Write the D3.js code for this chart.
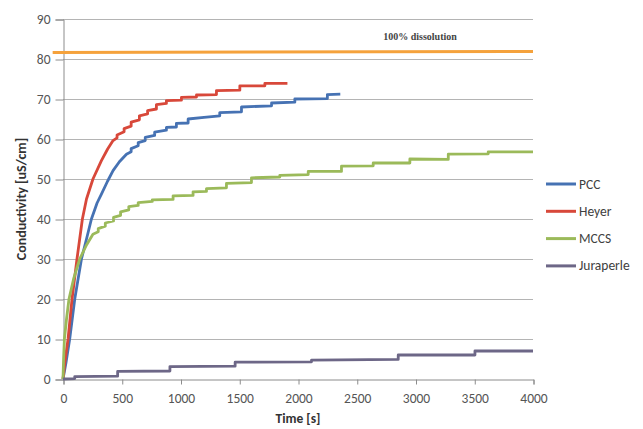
<!DOCTYPE html>
<html>
<head>
<meta charset="utf-8">
<script src="https://cdn.jsdelivr.net/npm/d3@7"></script>
<style>
  html, body { margin: 0; padding: 0; background: #ffffff; }
  svg { display: block; }
  text { font-family: Carlito, "Open Sans", "Liberation Sans", sans-serif; }
</style>
</head>
<body>
<svg id="chart" width="643" height="429"></svg>
<script>
// ---- data (time [s], conductivity [uS/cm]) ----
const seriesNames = ["PCC", "Heyer", "MCCS", "Juraperle"];
const seriesColors = ["#4672b3", "#d8483a", "#9bba5a", "#6d6787"];

const pccData = [[0,0],[25,4],[57,10],[100,20],[157,30],[200,35],[242,40],[290,44],[327,46.2],[380,49.5],[426,52.1],[480,54.3],[540,56.2],[580,56.8],[580,57.6],[640,58.3],[640,59.1],[700,59.6],[700,60.4],[780,60.9],[780,61.7],[880,62.2],[880,62.9],[965,63.0],[965,63.9],[1065,64.0],[1065,65.0],[1200,65.4],[1334,65.8],[1334,66.6],[1519,66.8],[1519,68.0],[1775,68.3],[1775,69.0],[1973,69.2],[1973,70.0],[2250,70.1],[2250,71.1],[2360,71.2]];

const heyerData = [[0,0],[15,4],[43,10],[77,20],[119,30],[165,40],[200,45],[255,50],[327,54.6],[380,57.5],[426,59.6],[460,60.3],[460,61.0],[520,61.8],[520,62.6],[580,63.2],[580,64.2],[650,64.8],[650,65.8],[720,66.3],[720,67.1],[795,67.5],[795,68.6],[880,68.9],[880,69.6],[1008,69.7],[1008,70.4],[1136,70.5],[1136,71.0],[1306,71.1],[1306,72.1],[1505,72.2],[1505,73.3],[1718,73.3],[1718,73.9],[1910,73.9]];

const mccsData = [[0,0],[5,5],[12,10],[30,15],[51,20],[90,25],[142,30],[200,33.5],[255,36.2],[300,36.8],[300,37.6],[360,38.2],[360,39.0],[430,39.5],[430,40.4],[490,40.9],[490,41.8],[560,42.3],[560,43.1],[640,43.4],[640,44.1],[760,44.4],[760,44.8],[937,44.9],[937,45.8],[1107,45.9],[1107,46.8],[1221,46.9],[1221,47.6],[1391,47.8],[1391,48.9],[1604,49.1],[1604,50.3],[1845,50.5],[1845,50.9],[2087,51.1],[2087,51.9],[2370,51.9],[2370,53.2],[2640,53.3],[2640,54.0],[2952,54.0],[2952,55.0],[3279,54.9],[3279,56.2],[3619,56.3],[3619,56.8],[4000,56.8]];

const juraperleData = [[0,0],[100,0.1],[100,0.6],[465,0.7],[465,1.9],[910,2.0],[910,3.1],[1465,3.2],[1465,4.2],[2115,4.3],[2115,4.7],[2853,4.9],[2853,6.0],[3506,6.0],[3506,7.0],[4000,7.0]];

const dissolutionLine = [[-88,81.6],[4000,81.9]];
const dissolutionLabel = "100% dissolution";

const xTicks = [0,500,1000,1500,2000,2500,3000,3500,4000];
const yTicks = [0,10,20,30,40,50,60,70,80,90];
const xTitle = "Time [s]";
const yTitle = "Conductivity [uS/cm]";

// ---- drawing ----
const svg = d3.select("#chart");
const x = d3.scaleLinear().domain([0, 4000]).range([63, 533]);
const y = d3.scaleLinear().domain([0, 90]).range([379, 19]);

// gridlines
svg.append("g")
  .selectAll("line").data(yTicks.filter(d => d > 0)).join("line")
  .attr("x1", x(0)).attr("x2", x(4000))
  .attr("y1", d => y(d) + 0.5).attr("y2", d => y(d) + 0.5)
  .attr("stroke", "#b4b4b4").attr("stroke-width", 1);

// y axis
const yAxis = svg.append("g").attr("transform", `translate(${x(0)+0.5},0.5)`)
  .call(d3.axisLeft(y).tickValues(yTicks).tickFormat(d3.format("d")).tickSize(8).tickPadding(5));
yAxis.select(".domain").attr("stroke", "#8c8c8c");
yAxis.selectAll(".tick line").attr("stroke", "#8c8c8c");
yAxis.selectAll(".tick text").attr("font-size", 13.5).attr("fill", "#555");

// x axis
const xAxis = svg.append("g").attr("transform", `translate(0.5,${y(0)+0.5})`)
  .call(d3.axisBottom(x).tickValues(xTicks).tickFormat(d3.format("d")).tickSize(5).tickPadding(9));
xAxis.select(".domain").attr("stroke", "#8c8c8c");
xAxis.selectAll(".tick line").attr("stroke", "#8c8c8c");
xAxis.selectAll(".tick text").attr("font-size", 13.5).attr("fill", "#555");

// axis titles
svg.append("text")
  .attr("x", (x(0)+x(4000))/2).attr("y", 423)
  .attr("text-anchor", "middle").attr("font-size", 13.5).attr("font-weight", "bold")
  .attr("fill", "#333").text(xTitle);
svg.append("text")
  .attr("transform", `translate(26,${(y(0)+y(90))/2}) rotate(-90)`)
  .attr("text-anchor", "middle").attr("font-size", 14).attr("font-weight", "bold")
  .attr("fill", "#333").text(yTitle);

// dissolution line
const line = d3.line().x(d => x(d[0])).y(d => y(d[1]));
svg.append("path").datum(dissolutionLine)
  .attr("d", line).attr("fill", "none")
  .attr("stroke", "#f5a23c").attr("stroke-width", 3);
svg.append("text")
  .attr("x", 420).attr("y", 39.5).attr("text-anchor", "middle")
  .style("font-family", "'Liberation Serif', 'DejaVu Serif', serif")
  .attr("font-size", 10).attr("font-weight", "bold").attr("fill", "#444")
  .text(dissolutionLabel);

// series
const allData = [pccData, heyerData, mccsData, juraperleData];
svg.append("g").selectAll("path").data(allData).join("path")
  .attr("d", line).attr("fill", "none")
  .attr("stroke", (d, i) => seriesColors[i])
  .attr("stroke-width", 2.8).attr("stroke-linejoin", "round");

// legend
const legend = svg.append("g").selectAll("g").data(seriesNames).join("g")
  .attr("transform", (d, i) => `translate(546,${184 + i * 27.3})`);
legend.append("line").attr("x1", 0).attr("x2", 30).attr("y1", 0).attr("y2", 0)
  .attr("stroke", (d, i) => seriesColors[i]).attr("stroke-width", 3);
legend.append("text").attr("x", 33).attr("y", 4.5)
  .attr("font-size", 13.5).attr("fill", "#404040").text(d => d);
</script>
</body>
</html>
